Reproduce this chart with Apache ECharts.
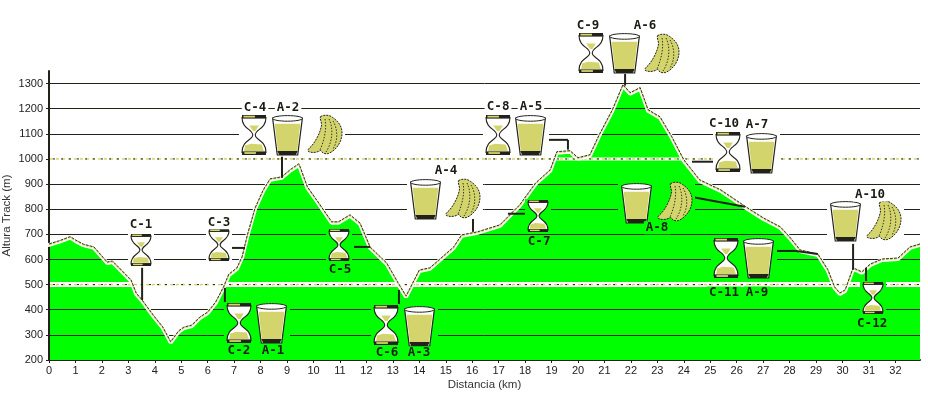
<!DOCTYPE html>
<html><head><meta charset="utf-8">
<style>html,body{margin:0;padding:0;background:#fff}#c{width:928px;height:393px}</style>
<script src="https://cdn.jsdelivr.net/npm/echarts@6/dist/echarts.min.js"></script>
</head><body><div id="c"></div>
<script>
const profileKm=[0,0.4,0.8,1,1.3,1.7,2,2.2,2.4,2.7,3.1,3.3,3.5,3.8,4,4.3,4.6,4.9,5.1,5.4,5.7,6,6.3,6.6,6.8,7.1,7.3,7.5,7.79,8.1,8.36,8.8,9.11,9.45,9.77,10.12,10.69,10.94,11.38,11.76,12.14,12.77,13.2,13.5,14,14.4,15.3,15.6,16.2,17.05,17.8,18.4,18.95,19.2,19.7,20,20.45,20.8,21.3,21.7,21.97,22.35,22.65,23.1,23.55,24,24.6,25.4,26.3,27,27.65,28,28.4,29.07,29.45,29.7,29.9,30.1,30.4,30.73,31.05,31.5,32.1,32.55,32.93];
const profileAlt=[662,675,691,678,661,650,614,590,594,562,519,466,442,399,371,332,273,316,331,339,371,391,431,491,542,566,611,698,805,877,921,929,957,981,889,837,750,750,778,745,650,586,507,455,558,567,650,698,710,738,818,905,957,1029,1033,1005,1017,1096,1196,1296,1264,1284,1196,1168,1088,997,917,877,813,766,730,690,638,622,559,491,467,479,567,551,582,602,606,650,662];
const yTicks=[200,1350];
const dottedLevels=[500,1000];
const iconKinds=['h','H','h','H','h','H','h','H','H','H','H','h','G','G','G','G','G','G','G','G','G','G','B','B','B','B','B'];
const iconKm=[3.48,7.18,6.43,7.75,10.96,12.74,18.49,16.98,20.49,25.67,25.6,31.15,8.43,9,13.99,14.22,18.22,21.74,26.92,22.23,26.84,30.13,10.43,15.65,23.18,23.67,31.57];
const iconAlt=[638,347,658,1096,658,339,774,1096,1423,1029,606,447,347,1096,335,841,1096,1423,1025,825,606,754,1096,841,1419,829,754];
const stopLabels=['C-1','C-2','A-1','C-3','C-4','A-2','C-5','C-6','A-3','A-4','C-7','C-8','A-5','C-9','A-6','C-10','A-7','A-8','C-11','A-9','A-10','C-12'];
const stopKm=[3.48,7.18,8.47,6.43,7.79,9.04,11,12.78,13.99,15.01,18.53,16.98,18.22,20.38,22.53,25.52,26.77,22.99,25.52,26.77,31.04,31.12];
const stopAlt=[738,236,236,746,1204,1204,559,228,228,953,670,1208,1208,1531,1531,1140,1136,726,467,467,857,343];
const linkKm1=[3.52,6.65,6.88,8.81,11.53,13.23,16.03,17.35,18.87,19.62,21.78,24.31,24.31,27.52,28.24,30.4,30.89];
const linkAlt1=[567,487,646,1009,650,479,766,782,1076,1076,1343,989,849,634,634,662,567];
const linkKm2=[3.52,6.65,7.41,8.81,12.14,13.23,16.03,18.03,19.62,19.62,21.78,25.18,26.31,28.24,29.07,30.4,30.89];
const linkAlt2=[439,431,646,925,650,419,710,782,1076,1037,1292,989,810,634,622,559,511];

const DARK='#22221a',SAND='#d3d56c',GREEN='#00ff00';
const BANANA='M13 2C16 0 22 0 25 3C31 7 34 12 34 18C34 27 28 35 21 38C18 39 15 38 13 35C10 37 5 38 1 36C0 34 2 33 4 31C9 25 13 17 14 10C14 7 12 4 13 2Z';
const BANANA_LINES=['M17 4C19 14 16 26 12 35','M21 4C26 14 24 28 18 37','M25 6C30 14 30 26 25 34'];
function altAt(km){for(let i=1;i<profileKm.length;i++){if(km<=profileKm[i]){const t=(km-profileKm[i-1])/(profileKm[i]-profileKm[i-1]);return profileAlt[i-1]+t*(profileAlt[i]-profileAlt[i-1]);}}return profileAlt[profileAlt.length-1];}
function bgFor(km,alt){return altAt(km)>alt?GREEN:'#fff';}
function pathEl(d,w,h,st){return {type:'path',shape:{pathData:d,x:0,y:0,width:w,height:h},style:st};}
function hourglass(w,h){
  const s=h*0.09,n=w*0.05,c=w*0.5,L=w*0.03,R=w*0.97;
  const body=`M${L} ${s}C${L} ${h*0.36} ${c-n} ${h*0.36} ${c-n} ${h*0.5}C${c-n} ${h*0.62} ${L} ${h*0.62} ${L} ${h-s}L${R} ${h-s}C${R} ${h*0.62} ${c+n} ${h*0.62} ${c+n} ${h*0.5}C${c+n} ${h*0.36} ${R} ${h*0.36} ${R} ${s}Z`;
  return [
    pathEl(body,w,h,{fill:'#fff',stroke:DARK,lineWidth:1.1}),
    {type:'polygon',shape:{points:[[w*0.3,h*0.26],[w*0.7,h*0.26],[w*0.56,h*0.4],[w*0.46,h*0.4]]},style:{fill:SAND}},
    {type:'polygon',shape:{points:[[w*0.09,h*0.9],[w*0.13,h*0.76],[w*0.38,h*0.72],[w*0.82,h*0.74],[w*0.91,h*0.9]]},style:{fill:SAND}},
    {type:'rect',shape:{x:0,y:0,width:w,height:s},style:{fill:DARK}},
    {type:'rect',shape:{x:w*0.06,y:s*0.2,width:w*0.48,height:s*0.5},style:{fill:SAND}},
    {type:'rect',shape:{x:0,y:h-s,width:w,height:s},style:{fill:DARK}},
    {type:'rect',shape:{x:w*0.1,y:h-s+s*0.2,width:w*0.48,height:s*0.5},style:{fill:SAND}}
  ];
}
function glass(w,h){
  const l=w*0.02,r=w*0.98,bl=w*0.17,br=w*0.83;
  const lx=y=>l+(bl-l)*y/h, rx=y=>r+(br-r)*y/h;
  return [
    {type:'polygon',shape:{points:[[l,h*0.08],[r,h*0.08],[br,h],[bl,h]]},style:{fill:'#fff',stroke:DARK,lineWidth:1.2}},
    {type:'polygon',shape:{points:[[lx(h*0.22)+1,h*0.22],[rx(h*0.22)-1,h*0.22],[br-0.5,h*0.9],[bl+0.5,h*0.9]]},style:{fill:SAND}},
    {type:'polygon',shape:{points:[[bl,h*0.9],[br,h*0.9],[br-2,h],[bl+2,h]]},style:{fill:DARK}},
    {type:'ellipse',shape:{cx:w/2,cy:h*0.085,rx:w*0.48,ry:h*0.07},style:{fill:'#fff',stroke:DARK,lineWidth:1}}
  ];
}
function banana(w,h){
  return [pathEl(BANANA,w,h,{fill:SAND,stroke:DARK,lineWidth:1,lineDash:[2,1]})].concat(
    BANANA_LINES.map(d=>({type:'path',shape:{pathData:d},style:{fill:'none',stroke:DARK,lineWidth:0.9,lineDash:[1.5,1.5]}})));
}
const SIZES={h:[20,32],H:[24,40],G:[31,40],B:[34,39]};

const chart=echarts.init(document.getElementById('c'),null,{renderer:'canvas'});
chart.setOption({
  animation:false,
  backgroundColor:'#fff',
  grid:{left:49,right:8,top:71,height:289,containLabel:false,outerBoundsMode:'none'},
  xAxis:{type:'value',min:0,max:32.93,interval:1,name:'Distancia (km)',nameLocation:'middle',nameGap:19,nameMoveOverlap:false,
    nameTextStyle:{color:'#333',fontFamily:'Liberation Sans',fontSize:11.5},
    axisLine:{onZero:false,lineStyle:{color:DARK,width:2}},axisTick:{length:3,lineStyle:{color:DARK,width:1}},
    axisLabel:{margin:5,showMaxLabel:false,fontFamily:'Liberation Sans',fontSize:11,formatter:v=>String(v),
      color:function(v){return v===3?'#d8d88a':'#222';}},
    splitLine:{show:false}},
  yAxis:{type:'value',min:yTicks[0],max:yTicks[1],interval:100,z:3,name:'Altura Track (m)',nameLocation:'middle',nameGap:36,nameRotate:90,nameMoveOverlap:false,
    nameTextStyle:{color:'#333',fontFamily:'Liberation Sans',fontSize:11.5},
    axisLine:{show:true,lineStyle:{color:DARK,width:2}},axisTick:{show:true,length:3,lineStyle:{color:DARK}},
    axisLabel:{margin:6,showMaxLabel:false,fontFamily:'Liberation Sans',fontSize:11,color:'#222',formatter:v=>String(v)},
    splitLine:{show:true,showMaxLine:false,lineStyle:{color:DARK,width:1,type:'solid'}}},
  series:[
    {type:'line',name:'area',z:1,symbol:'none',data:profileKm.map((k,i)=>[k,profileAlt[i]]),
      lineStyle:{width:0},areaStyle:{color:GREEN,opacity:1,origin:'start'}},
    {type:'custom',name:'dotted',z:4,coordinateSystem:'cartesian2d',data:dottedLevels.map(v=>[0,v]),encode:{x:0,y:1},
      renderItem:function(p,api){
        const v=api.value(1),a=api.coord([0,v]),b=api.coord([32.93,v]),hw=v===500?2.5:1.5;
        return {type:'group',children:[
          {type:'rect',shape:{x:a[0]+1,y:a[1]-hw,width:b[0]-a[0]-1,height:hw*2},style:{fill:'#fff'}},
          {type:'line',shape:{x1:a[0]+1,y1:a[1],x2:b[0],y2:b[1]},style:{stroke:SAND,lineWidth:1.5,lineDash:[3,3]}},
          {type:'line',shape:{x1:a[0]+4,y1:a[1],x2:b[0],y2:b[1]},style:{stroke:DARK,lineWidth:1,lineDash:[2,6]}}
        ]};
      }},
    {type:'line',name:'halo',z:5,symbol:'none',data:profileKm.map((k,i)=>[k,profileAlt[i]-4]),lineStyle:{color:'#fff',width:4,cap:'round'}},
    {type:'line',name:'dither',z:5,symbol:'none',data:profileKm.map((k,i)=>[k,profileAlt[i]-3]),lineStyle:{color:SAND,width:1.4,type:[3,1]}},
    {type:'line',name:'track',z:6,symbol:'none',data:profileKm.map((k,i)=>[k,profileAlt[i]]),lineStyle:{color:'#33331f',width:1,type:[3,1]}},
    {type:'custom',name:'links',z:7,coordinateSystem:'cartesian2d',clip:false,
      data:linkKm1.map((k,i)=>[k,linkAlt1[i],linkKm2[i],linkAlt2[i]]),encode:{x:[0,2],y:[1,3]},
      renderItem:function(p,api){
        const a=api.coord([api.value(0),api.value(1)]),b=api.coord([api.value(2),api.value(3)]);
        return {type:'line',shape:{x1:a[0],y1:a[1],x2:b[0],y2:b[1]},style:{stroke:DARK,lineWidth:2}};
      }},
    {type:'custom',name:'icons',z:8,coordinateSystem:'cartesian2d',clip:false,
      data:iconKm.map((k,i)=>[k,iconAlt[i],i]),encode:{x:0,y:1},
      renderItem:function(p,api){
        const km=api.value(0),alt=api.value(1),kind=iconKinds[api.value(2)],c=api.coord([km,alt]);
        const [w,h]=SIZES[kind],x=Math.round(c[0]-w/2),y=Math.round(c[1]-h/2);
        const art=kind==='G'?glass(w,h):kind==='B'?banana(w,h):hourglass(w,h);
        return {type:'group',children:[
          {type:'rect',shape:{x:x-3,y:y-1,width:w+6,height:h+2},style:{fill:bgFor(km,alt)}},
          {type:'group',x:x,y:y,children:art}
        ]};
      }},
    {type:'custom',name:'labels',z:9,coordinateSystem:'cartesian2d',clip:false,
      data:stopKm.map((k,i)=>[k,stopAlt[i],i]),encode:{x:0,y:1},
      renderItem:function(p,api){
        const km=api.value(0),alt=api.value(1),c=api.coord([km,alt]);
        return {type:'text',x:c[0],y:c[1],style:{text:stopLabels[api.value(2)],fill:'#1c1c14',align:'center',verticalAlign:'middle',
          font:'bold 12.5px "DejaVu Sans Mono"',backgroundColor:bgFor(km,alt),padding:[0,2]}};
      }}
  ]
});
</script></body></html>
